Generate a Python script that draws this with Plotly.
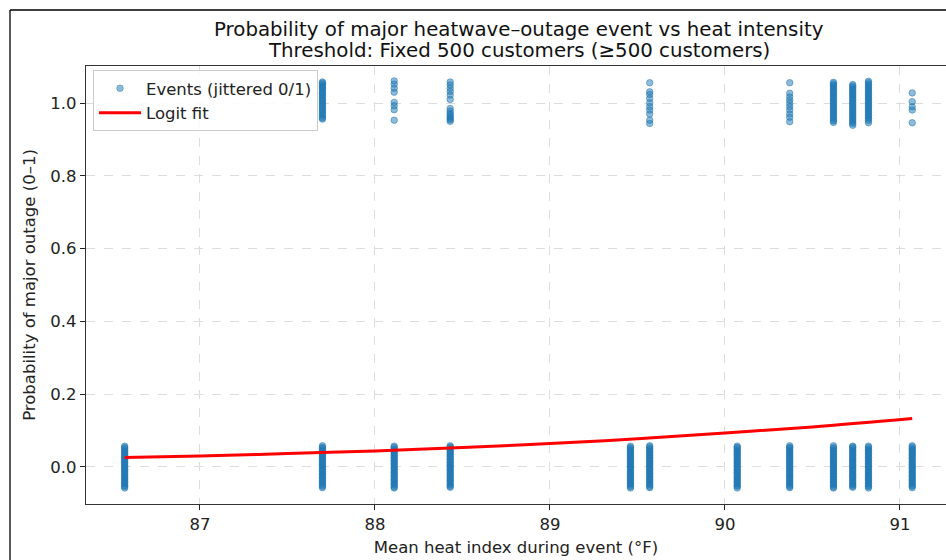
import plotly.graph_objects as go

# ---- data ----
# heat index (°F) of events with no major outage (y = 0, jittered)
zero_heat = [86.57, 87.70, 88.11, 88.43, 89.46, 89.57, 90.07, 90.37, 90.62, 90.73, 90.82, 91.07]
zero_jit = [
    [-0.058, -0.054, -0.051, -0.046, -0.042, -0.039, -0.034, -0.030, -0.027, -0.022, -0.019, -0.014, -0.010, -0.007, -0.002, 0.002, 0.005, 0.010, 0.013, 0.018, 0.021, 0.026, 0.029, 0.034, 0.037, 0.042, 0.045, 0.050, 0.053, 0.057],
    [-0.057, -0.053, -0.050, -0.045, -0.041, -0.038, -0.033, -0.029, -0.025, -0.021, -0.018, -0.013, -0.009, -0.006, -0.001, 0.003, 0.006, 0.011, 0.014, 0.019, 0.022, 0.027, 0.030, 0.035, 0.038, 0.043, 0.046, 0.051, 0.054, 0.058],
    [-0.058, -0.055, -0.050, -0.047, -0.043, -0.038, -0.035, -0.031, -0.026, -0.023, -0.018, -0.015, -0.011, -0.006, -0.003, 0.001, 0.006, 0.009, 0.014, 0.017, 0.022, 0.025, 0.030, 0.033, 0.038, 0.041, 0.046, 0.049, 0.054, 0.057],
    [-0.056, -0.053, -0.049, -0.045, -0.040, -0.037, -0.033, -0.028, -0.025, -0.020, -0.017, -0.012, -0.008, -0.005, 0.000, 0.004, 0.007, 0.012, 0.015, 0.020, 0.023, 0.028, 0.031, 0.036, 0.039, 0.044, 0.047, 0.052, 0.055, 0.058],
    [-0.058, -0.054, -0.050, -0.046, -0.043, -0.038, -0.034, -0.031, -0.026, -0.022, -0.019, -0.014, -0.011, -0.006, -0.002, 0.001, 0.006, 0.010, 0.013, 0.018, 0.021, 0.026, 0.030, 0.033, 0.038, 0.041, 0.046, 0.050, 0.053, 0.057],
    [-0.057, -0.054, -0.049, -0.046, -0.041, -0.037, -0.034, -0.029, -0.026, -0.021, -0.017, -0.014, -0.009, -0.005, -0.002, 0.003, 0.007, 0.010, 0.015, 0.018, 0.023, 0.026, 0.031, 0.034, 0.039, 0.042, 0.047, 0.050, 0.055, 0.058],
    [-0.058, -0.053, -0.051, -0.046, -0.042, -0.039, -0.034, -0.030, -0.027, -0.022, -0.018, -0.015, -0.010, -0.007, -0.002, 0.002, 0.005, 0.010, 0.014, 0.017, 0.022, 0.025, 0.030, 0.034, 0.037, 0.042, 0.045, 0.050, 0.054, 0.057],
    [-0.057, -0.054, -0.050, -0.045, -0.042, -0.038, -0.033, -0.030, -0.025, -0.022, -0.018, -0.013, -0.010, -0.005, -0.001, 0.002, 0.007, 0.011, 0.014, 0.019, 0.022, 0.027, 0.030, 0.035, 0.038, 0.043, 0.046, 0.051, 0.054, 0.058],
    [-0.058, -0.055, -0.050, -0.047, -0.042, -0.039, -0.035, -0.030, -0.027, -0.022, -0.019, -0.014, -0.011, -0.006, -0.003, 0.002, 0.005, 0.010, 0.013, 0.018, 0.022, 0.025, 0.030, 0.033, 0.038, 0.042, 0.045, 0.050, 0.053, 0.058],
    [-0.056, -0.053, -0.049, -0.046, -0.041, -0.038, -0.033, -0.029, -0.026, -0.021, -0.018, -0.013, -0.009, -0.006, -0.001, 0.003, 0.006, 0.011, 0.015, 0.018, 0.023, 0.026, 0.031, 0.034, 0.039, 0.043, 0.046, 0.051, 0.055, 0.057],
    [-0.058, -0.054, -0.051, -0.046, -0.043, -0.038, -0.034, -0.031, -0.026, -0.023, -0.018, -0.014, -0.011, -0.006, -0.002, 0.001, 0.006, 0.009, 0.014, 0.017, 0.022, 0.026, 0.029, 0.034, 0.037, 0.042, 0.046, 0.049, 0.054, 0.057],
    [-0.057, -0.053, -0.050, -0.045, -0.042, -0.037, -0.034, -0.029, -0.025, -0.022, -0.017, -0.014, -0.009, -0.005, -0.002, 0.003, 0.006, 0.011, 0.014, 0.019, 0.023, 0.026, 0.031, 0.035, 0.038, 0.043, 0.047, 0.050, 0.055, 0.058],
]
# heat index (°F) of events with a major outage (y = 1, jittered)
one_heat = [87.70, 88.11, 88.43, 89.57, 90.37, 90.62, 90.73, 90.82, 91.07]
one_y = [
    [1.058, 1.055, 1.051, 1.047, 1.044, 1.040, 1.036, 1.031, 1.027, 1.023, 1.018, 1.014, 1.009, 1.005, 1.000, 0.996, 0.991, 0.987, 0.982, 0.978, 0.973, 0.969, 0.964, 0.959, 0.956],
    [1.061, 1.052, 1.041, 1.030, 1.002, 0.993, 0.982, 0.953],
    [1.058, 1.050, 1.041, 1.032, 1.022, 1.010, 0.985, 0.978, 0.972, 0.967, 0.962, 0.958, 0.954, 0.950],
    [1.056, 1.031, 1.024, 1.013, 1.001, 0.990, 0.981, 0.970, 0.953, 0.944],
    [1.056, 1.027, 1.017, 1.008, 0.999, 0.990, 0.981, 0.970, 0.961, 0.949],
    [1.057, 1.053, 1.049, 1.045, 1.041, 1.036, 1.032, 1.028, 1.023, 1.019, 1.014, 1.010, 1.005, 1.001, 0.996, 0.992, 0.987, 0.983, 0.978, 0.974, 0.969, 0.965, 0.960, 0.955, 0.951, 0.947],
    [1.051, 1.047, 1.043, 1.038, 1.034, 1.029, 1.025, 1.020, 1.016, 1.011, 1.007, 1.002, 0.998, 0.993, 0.989, 0.984, 0.980, 0.975, 0.971, 0.966, 0.962, 0.957, 0.953, 0.948, 0.944, 0.939],
    [1.060, 1.056, 1.051, 1.047, 1.042, 1.038, 1.033, 1.029, 1.024, 1.020, 1.015, 1.011, 1.006, 1.002, 0.997, 0.993, 0.988, 0.984, 0.979, 0.975, 0.970, 0.966, 0.961, 0.957, 0.952, 0.946],
    [1.028, 1.004, 0.990, 0.981, 0.946],
]
# logit fit curve
fit_heat = [86.57, 87.0, 87.5, 88.0, 88.5, 89.0, 89.5, 90.0, 90.5, 91.07]
fit_prob = [0.0256, 0.0302, 0.0365, 0.0440, 0.0530, 0.0640, 0.0775, 0.0935, 0.1100, 0.1331]

x_ticks = [87, 88, 89, 90, 91]
y_ticks = [0.0, 0.2, 0.4, 0.6, 0.8, 1.0]
title_lines = ["Probability of major heatwave–outage event vs heat intensity",
               "Threshold: Fixed 500 customers (≥500 customers)"]

# ---- build scatter arrays ----
sx, sy = [], []
for h, js in zip(zero_heat, zero_jit):
    for j in js:
        sx.append(h)
        sy.append(j)
for h, ys in zip(one_heat, one_y):
    for v in ys:
        sx.append(h)
        sy.append(v)

blue = "rgba(31,119,180,0.5)"
FONT = "DejaVu Sans"
FS = 16.5

fig = go.Figure()
fig.add_trace(go.Scatter(
    x=sx, y=sy, mode="markers", name="Events (jittered 0/1)",
    marker=dict(size=6.5, color=blue, line=dict(color=blue, width=1)),
))
fig.add_trace(go.Scatter(
    x=fit_heat, y=fit_prob, mode="lines", name="Logit fit",
    line=dict(color="#ff0000", width=3, shape="spline"),
))

W, H = 946, 560
L, R, T, B = 86, 0, 66, 56
pw, ph = W - L - R, H - T - B

def px_x(p):
    return (p - L) / pw

def px_y(p):
    return (H - B - p) / ph

annotations = [
    dict(text=title_lines[0], xref="paper", yref="paper", x=px_x(519), y=px_y(30),
         xanchor="center", yanchor="middle", showarrow=False,
         font=dict(family=FONT, size=19.8, color="#111111")),
    dict(text=title_lines[1], xref="paper", yref="paper", x=px_x(519), y=px_y(50),
         xanchor="center", yanchor="middle", showarrow=False,
         font=dict(family=FONT, size=19.8, color="#111111")),
]

fig.update_layout(
    width=W, height=H,
    margin=dict(l=L, r=R, t=T, b=B),
    paper_bgcolor="white", plot_bgcolor="white",
    font=dict(family=FONT, size=FS, color="#222222"),
    annotations=annotations,
    showlegend=True,
    legend=dict(
        x=px_x(93), y=px_y(70), xanchor="left", yanchor="top",
        itemwidth=42,
        bgcolor="rgba(255,255,255,0.85)", bordercolor="#cccccc", borderwidth=1,
        font=dict(family=FONT, size=FS, color="#222222"),
    ),
    xaxis=dict(
        range=[86.349, 91.263], tickvals=x_ticks, ticktext=[str(t) for t in x_ticks],
        ticks="outside", ticklen=5, tickcolor="#222222", tickwidth=1.2,
        showline=True, linecolor="#333333", linewidth=1.3, mirror=True,
        showgrid=True, gridcolor="#dddddd", griddash="dash", gridwidth=1,
        zeroline=False, tickfont=dict(family=FONT, size=FS),
        title=dict(text="Mean heat index during event (°F)", standoff=8,
                   font=dict(family=FONT, size=FS)),
    ),
    yaxis=dict(
        range=[-0.102, 1.102], tickvals=y_ticks, tickformat=".1f",
        ticks="outside", ticklen=5, tickcolor="#222222", tickwidth=1.2,
        showline=True, linecolor="#333333", linewidth=1.3, mirror=False,
        showgrid=True, gridcolor="#dddddd", griddash="dash", gridwidth=1,
        zeroline=False, tickfont=dict(family=FONT, size=FS),
        title=dict(text="Probability of major outage (0–1)", standoff=10,
                   font=dict(family=FONT, size=FS)),
    ),
    shapes=[
        dict(type="line", xref="paper", yref="paper",
             x0=px_x(10), x1=px_x(960), y0=px_y(10), y1=px_y(10),
             line=dict(color="black", width=1.3)),
        dict(type="line", xref="paper", yref="paper",
             x0=px_x(10), x1=px_x(10), y0=px_y(10), y1=px_y(580),
             line=dict(color="black", width=1.3)),
    ],
)

fig.write_html("out.html")
